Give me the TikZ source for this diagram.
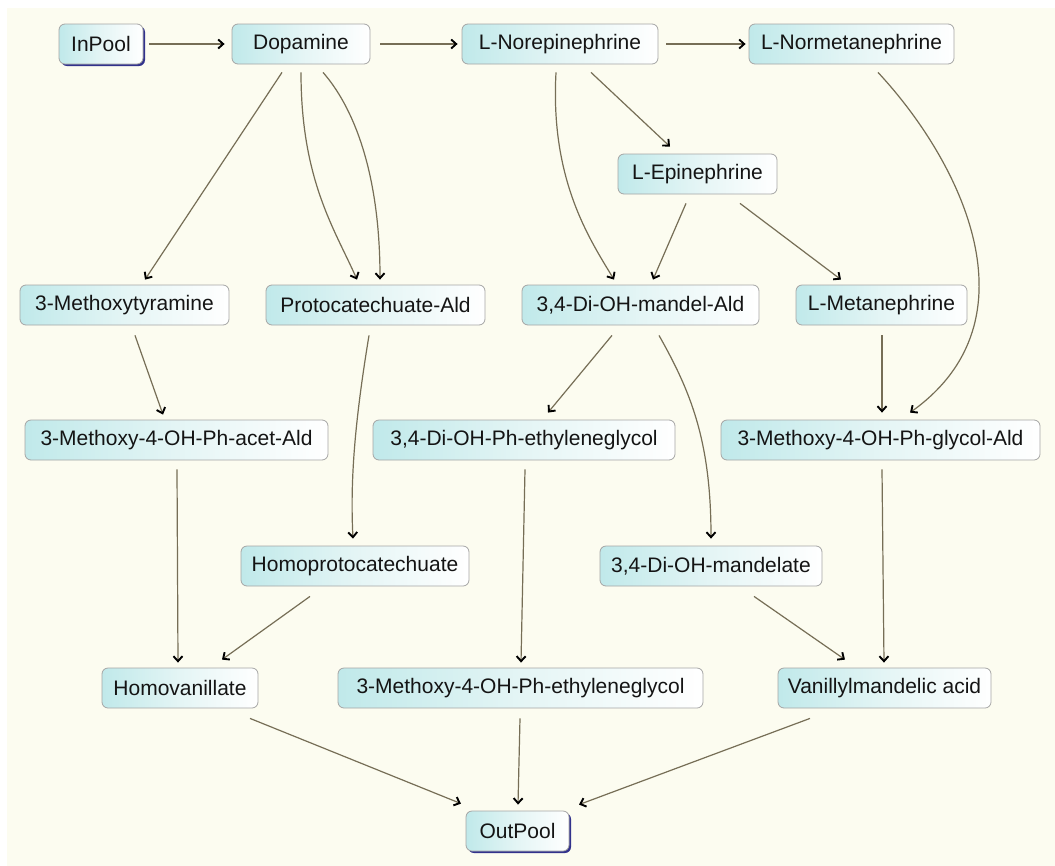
\documentclass[tikz,border=0pt]{standalone}
\usepackage{fontspec}
\setmainfont{Liberation Sans}
\usetikzlibrary{arrows.meta,shadows}
\definecolor{bg}{RGB}{252,252,240}
\definecolor{edgecol}{RGB}{118,110,86}
\definecolor{boxl}{RGB}{192,233,234}
\definecolor{boxm}{RGB}{228,245,245}
\definecolor{boxline}{RGB}{165,165,165}
\definecolor{poolsh}{RGB}{50,50,140}
\pgfdeclarehorizontalshading{boxshade}{100bp}{color(0bp)=(boxl); color(25bp)=(boxl); color(50bp)=(boxm); color(75bp)=(white); color(100bp)=(white)}
\begin{document}
\begin{tikzpicture}[x=1pt,y=-1pt,
  box/.style={draw=boxline, line width=0.8pt, rounded corners=6pt, shading=boxshade,
    minimum height=40pt, inner sep=0pt, font=\fontsize{21}{25}\selectfont, text=black!92},
  pool/.style={box, drop shadow={shadow xshift=2pt, shadow yshift=-2pt, fill=poolsh, opacity=1}},
  arr/.style={draw=edgecol, line width=1.2pt, -{Straight Barb[length=5pt,width=9pt,color=black,line width=1.9pt]}}]
\useasboundingbox (0,0) rectangle (1055,865);
\fill[white] (-5,-5) rectangle (1060,870);
\fill[bg] (7,8) rectangle (1060,870);

% nodes
\node[pool, minimum width=84pt]  (InPool) at (101,44)   {InPool};
\node[box, minimum width=138pt]  (Dop)    at (301,44)   {Dopamine};
\node[box, minimum width=196pt]  (NE)     at (560,44)   {L-Norepinephrine};
\node[box, minimum width=205pt]  (NM)     at (851.5,44) {L-Normetanephrine};
\node[box, minimum width=159pt]  (Epi)    at (697.5,174) {L-Epinephrine};
\node[box, minimum width=209pt]  (MTyr)   at (124.5,305) {3-Methoxytyramine};
\node[box, minimum width=219pt]  (PAld)   at (375.5,305) {Protocatechuate-Ald};
\node[box, minimum width=237pt]  (DMA)    at (640.5,305) {3,4-Di-OH-mandel-Ald};
\node[box, minimum width=171pt]  (LMet)   at (881.5,305) {L-Metanephrine};
\node[box, minimum width=303pt]  (AcAld)  at (176.5,440) {3-Methoxy-4-OH-Ph-acet-Ald};
\node[box, minimum width=302pt]  (DPEG)   at (524,440)   {3,4-Di-OH-Ph-ethyleneglycol};
\node[box, minimum width=319pt]  (GlyAld) at (880.5,440) {3-Methoxy-4-OH-Ph-glycol-Ald};
\node[box, minimum width=228pt]  (HPC)    at (355,566)   {Homoprotocatechuate};
\node[box, minimum width=222pt]  (DMand)  at (711,566)   {3,4-Di-OH-mandelate};
\node[box, minimum width=156pt]  (HVA)    at (180,688)   {Homovanillate};
\node[box, minimum width=365pt]  (MPEG)   at (520.5,688) {3-Methoxy-4-OH-Ph-ethyleneglycol};
\node[box, minimum width=213pt]  (VMA)    at (884.5,688) {Vanillylmandelic acid};
\node[pool, minimum width=103pt] (Out)    at (517.5,831) {OutPool};

% connectors
\draw[arr] ([xshift=6pt]InPool.east) -- ([xshift=-7pt]Dop.west);
\draw[arr] ([xshift=10pt]Dop.east) -- ([xshift=-4pt]NE.west);
\draw[arr] ([xshift=8pt]NE.east) -- ([xshift=-3pt]NM.west);
\draw[arr] ([xshift=-19pt,yshift=-8pt]Dop.south) -- ([xshift=20.5pt,yshift=5pt]MTyr.north);
\draw[arr] ([yshift=-8pt]Dop.south) .. controls +(0,108) and +(-22,-50) .. ([xshift=-18.5pt,yshift=5pt]PAld.north);
\draw[arr] ([xshift=22pt,yshift=-8pt]Dop.south) .. controls +(29,33) and +(0,-110) .. ([xshift=4.5pt,yshift=5pt]PAld.north);
\draw[arr] ([xshift=-4pt,yshift=-8pt]NE.south) .. controls +(-6,108) and +(-24,-40) .. ([xshift=-26.5pt,yshift=5pt]DMA.north);
\draw[arr] ([xshift=31pt,yshift=-8pt]NE.south) -- ([xshift=-27.5pt,yshift=7pt]Epi.north);
\draw[arr] ([xshift=26.5pt,yshift=-8pt]NM.south) .. controls +(82,88) and +(130,-93) .. ([xshift=29.5pt,yshift=7pt]GlyAld.north);
\draw[arr] ([xshift=-11.5pt,yshift=-9pt]Epi.south) -- ([xshift=12.5pt,yshift=5pt]DMA.north);
\draw[arr] ([xshift=42.5pt,yshift=-9pt]Epi.south) -- ([xshift=-40.5pt,yshift=5pt]LMet.north);
\draw[arr] ([xshift=10.5pt,yshift=-10pt]MTyr.south) -- ([xshift=-13.5pt,yshift=5pt]AcAld.north);
\draw[arr] ([xshift=-6.5pt,yshift=-10pt]PAld.south) .. controls +(-14,85) and +(-3,-59) .. ([xshift=-2pt,yshift=7pt]HPC.north);
\draw[arr] ([xshift=-28.5pt,yshift=-10pt]DMA.south) -- ([xshift=24pt,yshift=7pt]DPEG.north);
\draw[arr] ([xshift=18.5pt,yshift=-10pt]DMA.south) .. controls +(31,55) and +(0,-99) .. ([yshift=7pt]DMand.north);
\draw[arr] ([xshift=0.5pt,yshift=-10pt]LMet.south) -- ([xshift=1.5pt,yshift=7pt]GlyAld.north);
\draw[arr] ([xshift=0.5pt,yshift=-9pt]AcAld.south) -- ([xshift=-2pt,yshift=5pt]HVA.north);
\draw[arr] ([xshift=1pt,yshift=-9pt]DPEG.south) -- ([xshift=0.5pt,yshift=5pt]MPEG.north);
\draw[arr] ([xshift=1.5pt,yshift=-9pt]GlyAld.south) -- ([xshift=-0.5pt,yshift=5pt]VMA.north);
\draw[arr] ([xshift=-45pt,yshift=-10pt]HPC.south) -- ([xshift=42pt,yshift=8pt]HVA.north);
\draw[arr] ([xshift=43pt,yshift=-10pt]DMand.south) -- ([xshift=-39.5pt,yshift=8pt]VMA.north);
\draw[arr] ([xshift=70pt,yshift=-10pt]HVA.south) -- ([xshift=-56.5pt,yshift=7pt]Out.north);
\draw[arr] ([xshift=-0.5pt,yshift=-10pt]MPEG.south) -- ([xshift=0.5pt,yshift=6pt]Out.north);
\draw[arr] ([xshift=-74.5pt,yshift=-10pt]VMA.south) -- ([xshift=61.5pt,yshift=6pt]Out.north);
\end{tikzpicture}
\end{document}
